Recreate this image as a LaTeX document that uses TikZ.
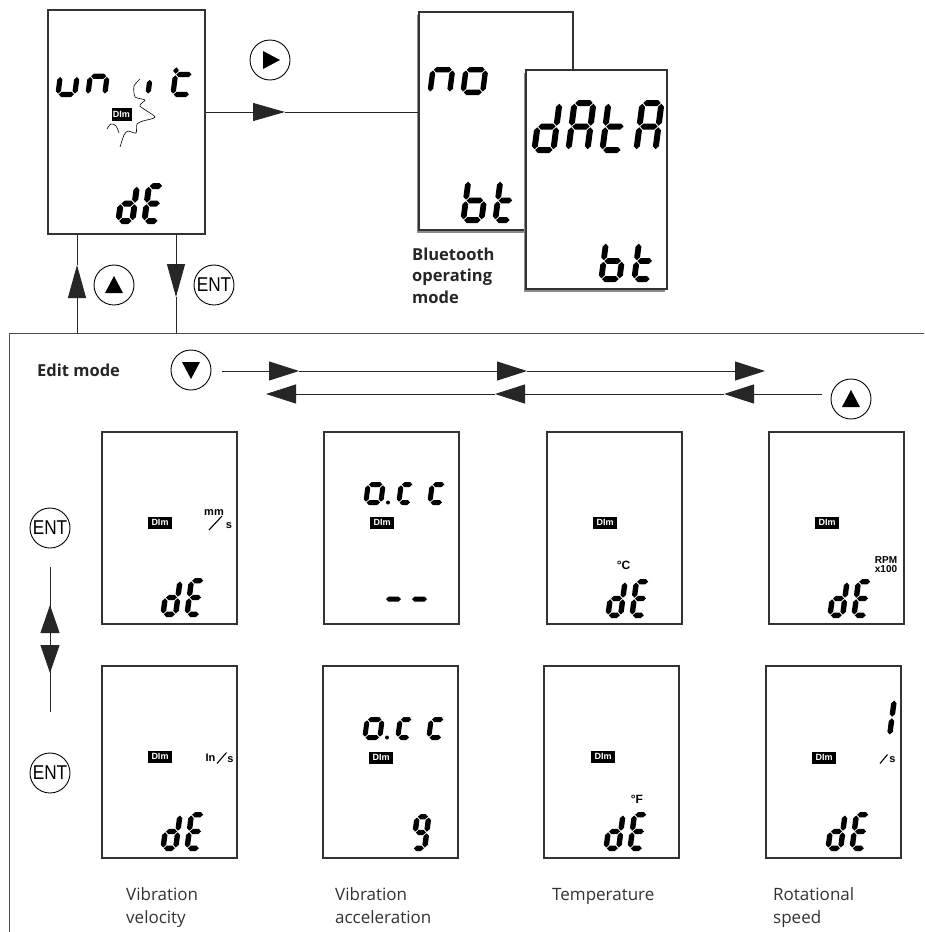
\documentclass[tikz,border=0pt]{standalone}
\usepackage{fontspec}
\setmainfont{Open Sans}
\newfontfamily\lcdf{Liberation Sans}
\usepackage{graphicx}
\usetikzlibrary{arrows.meta}
\makeatletter
\def\segh{2.2}
\def\segg{0.8}
\newcommand\hseg[3]{\fill (#1,#2) -- (#1+\segh,#2+\segh) -- (#3-\segh,#2+\segh) -- (#3,#2) -- (#3-\segh,#2-\segh) -- (#1+\segh,#2-\segh) -- cycle;}
\newcommand\vseg[3]{\fill (#1,#2) -- (#1+\segh,#2+\segh) -- (#1+\segh,#3-\segh) -- (#1,#3) -- (#1-\segh,#3-\segh) -- (#1-\segh,#2+\segh) -- cycle;}
\newcommand\glyph[6]{%
 \begin{scope}[shift={(#2,#3)},xslant=0.13,yscale=-1]
 \pgfmathsetmacro\gW{#4}%
 \pgfmathsetmacro\gH{#5}%
 \pgfmathsetmacro\gM{min(#5*#6,#5-\segh)}%
 \pgfmathsetmacro\xl{\segh}%
 \pgfmathsetmacro\xr{\gW-\segh}%
 \pgfmathsetmacro\yt{\gH-\segh}%
 \pgfmathsetmacro\yb{\segh}%
 \in@{a}{#1}\ifin@\hseg{\xl+\segg}{\yt}{\xr-\segg}\fi
 \in@{g}{#1}\ifin@\hseg{\xl+\segg}{\gM}{\xr-\segg}\fi
 \in@{d}{#1}\ifin@\hseg{\xl+\segg}{\yb}{\xr-\segg}\fi
 \in@{f}{#1}\ifin@\vseg{\xl}{\gM+\segg}{\yt-\segg}\fi
 \in@{b}{#1}\ifin@\vseg{\xr}{\gM+\segg}{\yt-\segg}\fi
 \in@{e}{#1}\ifin@\vseg{\xl}{\yb+\segg}{\gM-\segg}\fi
 \in@{c}{#1}\ifin@\vseg{\xr}{\yb+\segg}{\gM-\segg}\fi
 \end{scope}}
\makeatother
\newcommand\enttxt{\scalebox{0.86}[1]{ENT}}
\begin{document}
\begin{tikzpicture}[x=1pt,y=-1pt,
 lcdbox/.style={draw=black!80, line width=1.1pt, fill=white, inner sep=0pt},
 btn/.style={circle, draw=black, line width=0.9pt, minimum size=40pt, inner sep=0pt},
 entbtn/.style={btn, font=\lcdf\fontsize{20}{20}\selectfont},
 badge/.style={fill=black, text=white, font=\lcdf\bfseries\fontsize{9}{9}\selectfont, minimum width=24pt, minimum height=12pt, inner sep=0pt},
 unitlbl/.style={font=\lcdf\bfseries\fontsize{11}{9}\selectfont, inner sep=0pt, align=center},
 conn/.style={draw=black!85, line width=1pt},
 frame/.style={draw=black!70, line width=1pt},
 arrh/.style={conn, -{Triangle[length=30pt,width=19pt]}},
 arrv/.style={conn, -{Triangle[length=33pt,width=18pt]}},
 arre/.style={conn, -{Triangle[length=28pt,width=19pt]}},
 caption/.style={font=\fontsize{17}{23}\selectfont, text=black!80, align=left, inner sep=0pt},
 boldlbl/.style={font=\bfseries\fontsize{16.5}{21.7}\selectfont, text=black!85, align=left, inner sep=0pt}]
\useasboundingbox (0,0) rectangle (924,932);
\fill[white] (0,0) rectangle (924,932);

% edit mode frame
\draw[frame] (9,932) -- (9,333) -- (924,333);

% ---------- unit box ----------
\node[lcdbox, minimum width=157pt, minimum height=224pt] (unitbox) at (126.5,122) {};
\def\segh{2.6}
\glyph{cde}{55}{97}{22}{32}{0.65}
\glyph{ceg}{85}{97}{22}{32}{0.65}
\glyph{e}{145}{97}{10}{36}{0.5}
\glyph{defg}{170}{97}{22}{33}{0.68}
\def\segh{3}
\glyph{bcdeg}{115}{224}{20}{41}{0.5}
\glyph{adefg}{141}{224}{20}{41}{0.5}
\node[badge, minimum width=20pt, minimum height=13pt] (ubadge) at (121.5,114.5) {DIm};
\draw[line width=0.6pt] plot[smooth,tension=0.4] coordinates {(140,79)(134,86)(135,97)(145,100)(140,106)(155,117)(143,121)(137,124)(136,133)(128,131)(124,135)(120,147)};
\draw[line width=0.6pt] plot[smooth,tension=0.6] coordinates {(107,129)(111,124)(116,126)(119,133)};

% ---------- no / bt box ----------
\fill[black!45] (416.5,14.5) rectangle (570.5,232.5);
\node[lcdbox, minimum width=154pt, minimum height=218pt] (nobox) at (496,121) {};
\def\segh{2.7}
\glyph{ceg}{427}{95}{25}{28}{1}
\glyph{cdeg}{460}{95}{25}{28}{1}
\def\segh{2.9}
\glyph{cdefg}{460}{223}{24}{45}{0.5}
\glyph{defg}{492}{223}{21}{45}{0.5}

% ---------- dAtA / bt box ----------
\fill[black!45] (523.5,72.5) rectangle (664.5,291.5);
\node[lcdbox, minimum width=141pt, minimum height=219pt] (databox) at (596.5,179.5) {};
\def\segh{3}
\glyph{bcdeg}{531}{153}{25}{53}{0.5}
\glyph{abcefg}{565}{153}{25}{53}{0.5}
\glyph{defg}{599}{153}{25}{53}{0.5}
\glyph{abcefg}{633}{153}{25}{53}{0.5}
\def\segh{2.9}
\glyph{cdefg}{598}{282}{24}{42}{0.5}
\glyph{defg}{631}{282}{22}{42}{0.5}

\node[boldlbl, anchor=base west] (btlbl) at (412,303.5) {Bluetooth\\operating\\mode};

% ---------- top buttons and connectors ----------
\node[btn] (play) at (270,60) {};
\fill ([shift={(-7,-9)}]play.center) -- ([shift={(10,0)}]play.center) -- ([shift={(-7,9)}]play.center) -- cycle;
\coordinate (ra) at (285,112);
\draw[conn, -{Triangle[length=32pt,width=18pt]}] (unitbox.east |- ra) -- (ra);
\draw[conn] (ra) -- (nobox.west |- ra);

\node[btn] (upbtn) at (114,285) {};
\fill ([shift={(0,-9)}]upbtn.center) -- ([shift={(9,8)}]upbtn.center) -- ([shift={(-9,8)}]upbtn.center) -- cycle;
\coordinate (lu0) at (77,333);
\coordinate (lu1) at (77,265);
\draw[arrv] (lu0) -- (lu1);
\draw[conn] (lu1) -- (unitbox.south -| lu1);

\node[entbtn] (entbtn) at (214,285) {\enttxt};
\coordinate (rd1) at (176,297);
\coordinate (rd2) at (176,333);
\draw[arrv] (unitbox.south -| rd1) -- (rd1);
\draw[conn] (rd1) -- (rd2);

% ---------- edit mode row ----------
\node[boldlbl, anchor=west] (editlbl) at (37,370) {Edit mode};
\node[btn] (dnbtn) at (191,370) {};
\fill ([shift={(0,9)}]dnbtn.center) -- ([shift={(9,-8)}]dnbtn.center) -- ([shift={(-9,-8)}]dnbtn.center) -- cycle;
\node[btn] (upbtn2) at (851,399) {};
\fill ([shift={(0,-9)}]upbtn2.center) -- ([shift={(9,8)}]upbtn2.center) -- ([shift={(-9,8)}]upbtn2.center) -- cycle;
\coordinate (t0) at (222,371);
\coordinate (t1) at (299,371);
\coordinate (t2) at (527,371);
\coordinate (t3) at (765,371);
\draw[arrh] (t0) -- (t1);
\draw[arrh] (t1) -- (t2);
\draw[arrh] (t2) -- (t3);
\coordinate (u0) at (822,394);
\coordinate (u1) at (724,394);
\coordinate (u2) at (495,394);
\coordinate (u3) at (266,394);
\draw[arrh] (u0) -- (u1);
\draw[arrh] (u1) -- (u2);
\draw[arrh] (u2) -- (u3);

% ---------- left ENT column ----------
\node[entbtn] (ent1) at (50,528) {\enttxt};
\node[entbtn] (ent2) at (50,773) {\enttxt};
\coordinate (ev0) at (50,567);
\coordinate (ev1) at (50,712);
\draw[conn] (ev0) -- (ev1);
\coordinate (ea0) at (50,640);
\coordinate (ea1) at (50,605);
\coordinate (eb0) at (50,612);
\coordinate (eb1) at (50,673);
\draw[arre] (ea0) -- (ea1);
\draw[arre] (eb0) -- (eb1);

% ---------- edit mode LCD boxes ----------
\def\segh{2.7}
% box 1: mm/s
\node[lcdbox, minimum width=135pt, minimum height=192pt] (box1) at (169.5,528) {};
\begin{scope}[shift={(102,432)}]
\node[badge] (bd1) at (58,90.5) {DIm};
\glyph{bcdeg}{58}{185}{18}{39}{0.5}
\glyph{adefg}{82}{185}{18}{39}{0.5}
\node[unitlbl] (mm1) at (112,81) {mm};
\draw[line width=1.1pt] (107,98) -- (120,84);
\node[unitlbl] (s1) at (127,94) {s};
\end{scope}
% box 2: a.cc --
\node[lcdbox, minimum width=135pt, minimum height=192pt] (box2) at (391.5,528) {};
\begin{scope}[shift={(324,432)}]
\node[badge] (bd2) at (58,90.5) {DIm};
\def\segh{2.5}
\glyph{cdeg}{39}{73}{20}{23}{1}
\fill (64,70.5) circle[radius=2pt];
\glyph{deg}{72}{73}{17}{23}{1}
\glyph{deg}{103}{73}{18}{23}{1}
\hseg{62}{167}{77}
\hseg{88}{167}{103}
\def\segh{2.7}
\end{scope}
% box 3: degC
\node[lcdbox, minimum width=135pt, minimum height=192pt] (box3) at (614.5,528) {};
\begin{scope}[shift={(547,432)}]
\node[badge] (bd3) at (58,90.5) {DIm};
\node[unitlbl, font=\lcdf\bfseries\fontsize{12}{11}\selectfont] (dc3) at (76.5,133.5) {°C};
\glyph{bcdeg}{58}{186}{18}{39}{0.5}
\glyph{adefg}{82}{186}{18}{39}{0.5}
\end{scope}
% box 4: RPM x100
\node[lcdbox, minimum width=135pt, minimum height=192pt] (box4) at (836.5,528) {};
\begin{scope}[shift={(769,432)}]
\node[badge] (bd4) at (58,90.5) {DIm};
\node[unitlbl, font=\lcdf\bfseries\fontsize{10}{9}\selectfont] (rpm4) at (117,132.5) {RPM\\x100};
\glyph{bcdeg}{58}{186}{18}{39}{0.5}
\glyph{adefg}{82}{186}{18}{39}{0.5}
\end{scope}
% box 5: In/s
\node[lcdbox, minimum width=135pt, minimum height=192pt] (box5) at (169.5,762) {};
\begin{scope}[shift={(102,666)}]
\node[badge] (bd5) at (58,90.5) {DIm};
\node[unitlbl] (in5) at (108.5,92) {In};
\draw[line width=1.1pt] (115,97.5) -- (124.5,86.5);
\node[unitlbl] (s5) at (128.5,93.5) {s};
\glyph{bcdeg}{58}{185}{18}{39}{0.5}
\glyph{adefg}{82}{185}{18}{39}{0.5}
\end{scope}
% box 6: a.cc 9
\node[lcdbox, minimum width=135pt, minimum height=192pt] (box6) at (390.5,762) {};
\begin{scope}[shift={(323,666)}]
\node[badge] (bd6) at (58,91.5) {DIm};
\def\segh{2.5}
\glyph{cdeg}{39}{74}{20}{23}{1}
\fill (64,71.5) circle[radius=2pt];
\glyph{deg}{72}{74}{17}{23}{1}
\glyph{deg}{103}{74}{18}{23}{1}
\def\segh{2.7}
\glyph{abcdfg}{87}{185}{17}{37}{0.5}
\end{scope}
% box 7: degF
\node[lcdbox, minimum width=135pt, minimum height=192pt] (box7) at (611.5,762) {};
\begin{scope}[shift={(544,666)}]
\node[badge] (bd7) at (59,90.5) {DIm};
\node[unitlbl, font=\lcdf\bfseries\fontsize{12}{11}\selectfont] (df7) at (93,133.5) {°F};
\glyph{bcdeg}{59}{185}{18}{39}{0.5}
\glyph{adefg}{83}{185}{18}{39}{0.5}
\end{scope}
% box 8: 1/s
\node[lcdbox, minimum width=135pt, minimum height=192pt] (box8) at (833.5,762) {};
\begin{scope}[shift={(766,666)}]
\node[badge] (bd8) at (58,91.5) {DIm};
\glyph{bc}{114}{72}{12}{41}{0.5}
\draw[line width=1.1pt] (114,97.5) -- (121.5,88.5);
\node[unitlbl] (s8) at (126.5,93.5) {s};
\glyph{bcdeg}{59}{185}{18}{39}{0.5}
\glyph{adefg}{83}{185}{18}{39}{0.5}
\end{scope}

% ---------- captions ----------
\node[caption, anchor=base west] (cap1) at (126,923) {Vibration\\velocity};
\node[caption, anchor=base west] (cap2) at (335,923) {Vibration\\acceleration};
\node[caption, anchor=base west] (cap3) at (552,900) {Temperature};
\node[caption, anchor=base west] (cap4) at (773,923) {Rotational\\speed};
\end{tikzpicture}
\end{document}
